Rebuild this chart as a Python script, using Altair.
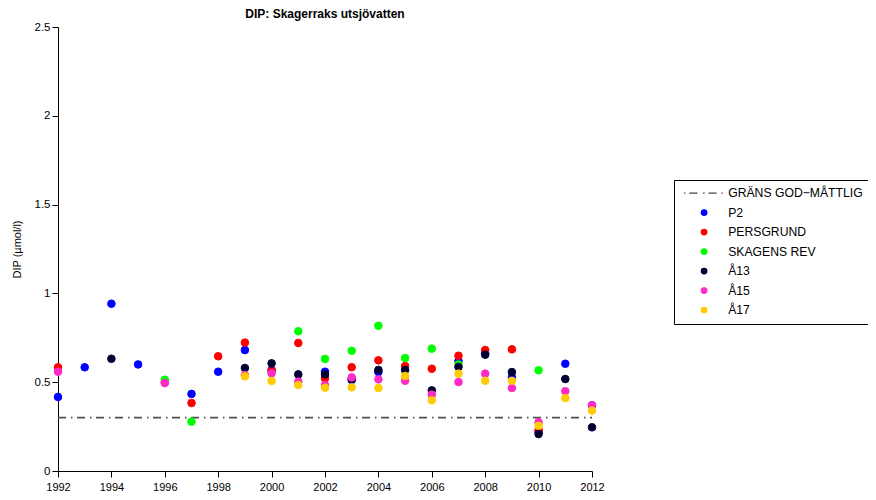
import altair as alt
import pandas as pd

years = list(range(1992, 2013))
series_names = ["P2", "PERSGRUND", "SKAGENS REV", "Å13", "Å15", "Å17"]
line_label = "GRÄNS GOD−MÅTTLIG"
limit_value = 0.3

p2 = [0.417, 0.584, 0.942, 0.600, None, 0.434, 0.559, 0.681, 0.569, None,
      0.559, 0.512, 0.557, None, None, 0.619, 0.662, 0.527, 0.221, 0.604, 0.370]
persgrund = [0.584, None, None, None, 0.500, 0.383, 0.646, 0.723, 0.563, 0.721,
             0.522, 0.584, 0.623, 0.591, 0.576, 0.649, 0.681, 0.685, 0.231, None, None]
skagens_rev = [None, None, None, None, 0.514, 0.278, None, None, None, 0.787,
               0.631, 0.677, 0.818, 0.636, 0.689, 0.600, None, None, 0.567, None, None]
a13 = [None, None, 0.632, None, None, None, None, 0.580, 0.606, 0.544,
       0.544, 0.518, 0.569, 0.569, 0.454, 0.586, 0.655, 0.557, 0.208, 0.518, 0.246]
a15 = [0.559, None, None, None, 0.495, None, None, 0.540, 0.550, 0.503,
       0.484, 0.527, 0.516, 0.508, 0.430, 0.501, 0.548, 0.467, 0.274, 0.449, 0.370]
a17 = [None, None, None, None, None, None, None, 0.533, 0.507, 0.484,
       0.469, 0.471, 0.467, 0.535, 0.398, 0.548, 0.508, 0.508, 0.255, 0.411, 0.340]

series_values = [p2, persgrund, skagens_rev, a13, a15, a17]
series_colors = ["#0000ff", "#ff0000", "#00ff00", "#000033", "#ff2ac8", "#ffcc00"]
line_color = "#444444"

x_ticks = list(range(1992, 2013, 2))
y_ticks = [0, 0.5, 1, 1.5, 2, 2.5]

rows = []
for order, (name, vals) in enumerate(zip(series_names, series_values)):
    for yr, v in zip(years, vals):
        if v is not None:
            rows.append({"year": yr, "series": name, "value": v, "order": order})
df = pd.DataFrame(rows)

limit_df = pd.DataFrame({"x1": [years[0]], "x2": [years[-1]], "limit": [limit_value],
                         "series": [line_label]})

legend_domain = [line_label] + series_names
legend_colors = [line_color] + series_colors
dash_path = ("M-7.3,0H-6.8M-5.4,0H-2.4M-0.4,0H0.2M1.6,0H4.6M6.3,0H6.8")
legend_shapes = [dash_path] + ["circle"] * len(series_names)

FONT = "Liberation Sans"

leg = alt.Legend(
    title=None, orient="none", legendX=616, legendY=153,
    strokeColor="black", padding=7, fillColor="white",
    labelFont=FONT, labelFontSize=12.2, labelColor="black",
    symbolSize=30, symbolStrokeWidth=1.3, symbolOffset=17,
    labelOffset=18, rowPadding=6.5, symbolOpacity=1,
)

x_enc = alt.X("year:Q", scale=alt.Scale(domain=[1992, 2012], nice=False, zero=False),
              axis=alt.Axis(values=x_ticks, format="d", title=None, labelFlush=False,
                            labelPadding=4))
y_enc = alt.Y("value:Q", scale=alt.Scale(domain=[0, 2.5], nice=False),
              axis=alt.Axis(values=y_ticks, title="DIP (µmol/l)", titlePadding=12,
                            labelFontSize=11.5,
                            labelExpr="datum.value == 0 ? '0' : format(datum.value, '.1~f')"))

points = alt.Chart(df).mark_point(filled=True, size=58, opacity=1, strokeWidth=1).encode(
    x=x_enc,
    y=y_enc,
    fill=alt.Fill("series:N", scale=alt.Scale(domain=legend_domain, range=legend_colors), legend=leg),
    stroke=alt.Stroke("series:N", scale=alt.Scale(domain=legend_domain, range=legend_colors), legend=leg),
    shape=alt.Shape("series:N", scale=alt.Scale(domain=legend_domain, range=legend_shapes), legend=leg),
    order=alt.Order("order:Q"),
)

limit_line = alt.Chart(limit_df).mark_rule(
    color="#505050", strokeWidth=1.7, strokeDash=[8, 5, 1.5, 4.5]
).encode(
    x="x1:Q", x2="x2:Q", y="limit:Q",
)

chart = alt.layer(limit_line, points).properties(
    width=534, height=444,
    padding={"left": 50, "top": 19, "right": 276, "bottom": 21},
    autosize=alt.AutoSizeParams(type="none"),
    title=alt.TitleParams("DIP: Skagerraks utsjövatten", font=FONT, fontSize=12,
                          fontWeight="bold", anchor="middle", offset=-12,
                          baseline="bottom", color="black"),
).configure_view(stroke=None).configure_axis(
    grid=False, domainColor="black", tickColor="black", labelColor="black",
    titleColor="black", labelFont=FONT, titleFont=FONT, labelFontSize=11,
    titleFontSize=11, titleFontWeight="normal", tickSize=6, labelPadding=2,
    domainWidth=1, tickWidth=1,
)

chart.save("out.html", embed_options={"renderer": "svg", "actions": False})
